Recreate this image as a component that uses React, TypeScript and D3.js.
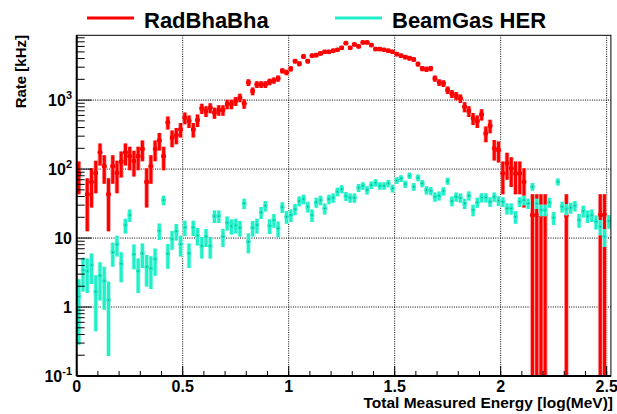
import React, { useRef, useEffect } from 'react';
import * as d3 from 'd3';

// histogram binning (126 bins of 0.02 in log(MeV))
const binLow = 0;
const binWidth = 0.02;

// RadBhaBha rate per bin [kHz], null = empty bin
const radBhaBha: (number | null)[] = [
  86, null, 43, 65, 88, 174, 110, 43, 110, 88,
  128, 174, 154, 131, 154, 195, 65, 110, 195, 260,
  154, 475, 285, 311, 376, 554, 497, 376, 513, 757,
  693, 774, 655, 716, 716, 875, 875, 968, 1082, 890,
  1803, 1350, 1687, 1687, 1687, 1845, 1928, 2061, 2661, 2518,
  2845, 3675, 3363, 4295, 3675, 4394, 4490, 4745, 5015, 5015,
  5190, 5360, 5730, 6695, 5730, 6410, 6000, 6850, 6850, 6270,
  5485, 5485, 5360, 5190, 5015, 4645, 4394, 4200, 4060, 3880,
  3325, 2877, 2810, 2877, 2061, 1803, 1746, 1396, 1236, 1156,
  1057, 800, 693, 542, 497, 620, 329, 425, 199, 188,
  86, 121, 102, 86, 86, 65, null, 21.5, 21.5, 21.5,
  21.5, null, null, null, null, 21.5, null, null, null, null,
  null, null, null, 21.5, 21.5, null,
];

// BeamGas HER rate per bin [kHz]
const beamGasHER: (number | null)[] = [
  1.41, 3.44, 3.32, 4.06, 1.67, 2.85, 2.38, 1.26, 6.2, 8.1,
  4.25, 15.4, 21.5, 5.8, 3.32, 6.0, 3.84, 3.63, 4.96, 12.8,
  35.5, 5.9, 9.7, 12.6, 8.1, 14.3, 6.0, 14.3, 10.9, 7.7,
  10.5, 7.7, 20.8, 20.8, 10.5, 16.7, 14.9, 15.4, 14.1, 31.8,
  8.85, 14.1, 15.4, 23.5, 29.4, 15.1, 18.2, 13.8, 28.1, 20.4,
  21.5, 26.3, 34.4, 36.7, 28.5, 21.5, 32.9, 35.5, 26.9, 36.7,
  38.4, 46.9, 51.3, 40.6, 38.4, 38.4, 53.6, 57.3, 49.6, 58.6,
  63.4, 57.3, 57.3, 62, 52.5, 68.5, 73.2, 60.6, 80, 55.5,
  74.9, 62, 49.6, 48.5, 39.7, 41.1, 48, 67, 34.4, 39.7,
  38.4, 31.8, 41.1, 25.5, 32.9, 38.8, 38.8, 33.6, 39.7, 34.8,
  33.6, 26.9, 26.9, 20.4, 33.6, 35.5, 31.8, 55.5, 31.8, 25.5,
  25.5, 32.9, 19.7, 65.5, 28.5, 26.3, 27.5, 29.4, 18.2, 24.6,
  20.8, 21.5, 17.3, 14.6, 10.5, 17.6,
];

// weight of one entry, for the Poisson error bars
const radWeight = 21.5;
const beamWeight = 0.9;

const xTicks = [0, 0.5, 1, 1.5, 2, 2.5];
const xTickLabels = ['0', '0.5', '1', '1.5', '2', '2.5'];
const yTicks = [0.1, 1, 10, 100, 1000];
const yTickBase = ['10', '1', '10', '10', '10'];
const yTickExp = ['-1', '', '', '2', '3'];

const seriesNames = ['RadBhaBha', 'BeamGas HER'];

const RED = '#ff0000';
const TEAL = '#1ff0c8';
const FONT = '"Liberation Sans", Arial, Helvetica, sans-serif';

const W = 617;
const H = 414;

const App = () => {
  const svgRef = useRef<SVGSVGElement>(null);

  useEffect(() => {
    const svg = d3.select(svgRef.current);
    svg.selectAll('*').remove();

    const left = 76.7, right = 610.9, top = 35.3, bottom = 376;

    const x = d3.scaleLinear().domain([0, 2.52]).range([left, right]);
    const y = d3.scaleLog().domain([0.1, 8700]).range([bottom, top]);

    svg.append('rect').attr('width', W).attr('height', H).attr('fill', '#fff');

    svg.append('defs').append('clipPath').attr('id', 'plot')
      .append('rect')
      .attr('x', left).attr('y', top)
      .attr('width', right - left).attr('height', bottom - top);

    // grid
    const grid = svg.append('g')
      .attr('stroke', '#000')
      .attr('stroke-width', 1)
      .attr('stroke-dasharray', '1 1.3');
    grid.selectAll('.gx').data(xTicks.filter(d => d > 0))
      .enter().append('line')
      .attr('x1', d => x(d)).attr('x2', d => x(d))
      .attr('y1', top).attr('y2', bottom);
    grid.selectAll('.gy').data(yTicks.filter(d => d > 0.1))
      .enter().append('line')
      .attr('x1', left).attr('x2', right)
      .attr('y1', d => y(d)).attr('y2', d => y(d));

    // histograms with error bars
    const plot = svg.append('g').attr('clip-path', 'url(#plot)');

    const drawSeries = (values: (number | null)[], weight: number, color: string, halo: string, dot: boolean) => {
      const pts = values
        .map((v, i) => ({ v, lo: binLow + i * binWidth, hi: binLow + (i + 1) * binWidth }))
        .filter(d => d.v !== null && (d.v as number) > 0)
        .map(d => {
          const v = d.v as number;
          const e = Math.sqrt(weight * v);
          return { ...d, v, up: v + e, down: v - e };
        });
      const yDown = (d: { down: number }) => (d.down > 0.1 ? y(d.down) : bottom + 5);

      const g = plot.append('g');
      [{ c: halo, w: 4.6 }, { c: color, w: 3 }].forEach(s => {
        g.selectAll(null).data(pts).enter().append('line')
          .attr('x1', d => x((d.lo + d.hi) / 2)).attr('x2', d => x((d.lo + d.hi) / 2))
          .attr('y1', d => y(d.up)).attr('y2', d => yDown(d))
          .attr('stroke', s.c).attr('stroke-width', s.w);
        g.selectAll(null).data(pts).enter().append('line')
          .attr('x1', d => x(d.lo)).attr('x2', d => x(d.hi))
          .attr('y1', d => y(d.v)).attr('y2', d => y(d.v))
          .attr('stroke', s.c).attr('stroke-width', s.w);
      });
      if (dot) {
        g.selectAll(null).data(pts).enter().append('circle')
          .attr('cx', d => x((d.lo + d.hi) / 2)).attr('cy', d => y(d.v))
          .attr('r', 2.4).attr('fill', color);
      } else {
        g.selectAll(null).data(pts).enter().append('rect')
          .attr('x', d => x((d.lo + d.hi) / 2) - 0.6).attr('y', d => y(d.v) - 0.6)
          .attr('width', 1.2).attr('height', 1.2).attr('fill', '#0c8f7a');
      }
    };

    drawSeries(radBhaBha, radWeight, RED, '#ff9a9a', true);
    drawSeries(beamGasHER, beamWeight, TEAL, '#a8f8e8', false);

    // frame
    svg.append('rect')
      .attr('x', left).attr('y', top)
      .attr('width', right - left).attr('height', bottom - top)
      .attr('fill', 'none').attr('stroke', '#000').attr('stroke-width', 1);
    svg.append('line').attr('x1', left).attr('x2', left).attr('y1', top).attr('y2', bottom)
      .attr('stroke', '#000').attr('stroke-width', 2);
    svg.append('line').attr('x1', left).attr('x2', right).attr('y1', bottom).attr('y2', bottom)
      .attr('stroke', '#000').attr('stroke-width', 2);

    // x ticks
    const axes = svg.append('g').attr('stroke', '#000').attr('stroke-width', 1);
    const xMinor = d3.range(0, 2.52, 0.1);
    axes.selectAll('.xm').data(xMinor).enter().append('line')
      .attr('x1', d => x(d)).attr('x2', d => x(d))
      .attr('y1', bottom).attr('y2', bottom - 5);
    axes.selectAll('.xM').data(xTicks).enter().append('line')
      .attr('x1', d => x(d)).attr('x2', d => x(d))
      .attr('y1', bottom).attr('y2', bottom - 10);

    // y ticks
    const yMinor: number[] = [];
    [0.1, 1, 10, 100, 1000].forEach(dec => {
      for (let m = 2; m <= 9; m++) if (dec * m < 8700) yMinor.push(dec * m);
    });
    axes.selectAll('.ym').data(yMinor).enter().append('line')
      .attr('x1', left).attr('x2', left + 8)
      .attr('y1', d => y(d)).attr('y2', d => y(d));
    axes.selectAll('.yM').data(yTicks).enter().append('line')
      .attr('x1', left).attr('x2', left + 15)
      .attr('y1', d => y(d)).attr('y2', d => y(d));

    // tick labels
    const labels = svg.append('g')
      .attr('font-family', FONT).attr('font-weight', 'bold').attr('fill', '#000');
    labels.selectAll('.xl').data(xTicks).enter().append('text')
      .attr('x', d => x(d)).attr('y', 391.5)
      .attr('text-anchor', 'middle').attr('font-size', 16)
      .text((d, i) => xTickLabels[i]);

    yTicks.forEach((v, i) => {
      const t = labels.append('text')
        .attr('x', 72).attr('y', y(v) + 6)
        .attr('text-anchor', 'end').attr('font-size', 16);
      t.append('tspan').text(yTickBase[i]);
      if (yTickExp[i]) {
        t.append('tspan').attr('font-size', 11).attr('dy', -7).text(yTickExp[i]);
      }
    });

    // axis titles
    labels.append('text')
      .attr('x', 613).attr('y', 408)
      .attr('text-anchor', 'end').attr('font-size', 15.5)
      .text('Total Measured Energy [log(MeV)]');
    labels.append('text')
      .attr('transform', 'translate(26,35) rotate(-90)')
      .attr('text-anchor', 'end').attr('font-size', 15)
      .text('Rate [kHz]');

    // legend
    const legend = svg.append('g').attr('font-family', FONT).attr('font-weight', 'bold');
    const legendX = [87, 335];
    const legendColors = [RED, TEAL];
    seriesNames.forEach((name, i) => {
      legend.append('line')
        .attr('x1', legendX[i]).attr('x2', legendX[i] + 47)
        .attr('y1', 18).attr('y2', 18)
        .attr('stroke', legendColors[i]).attr('stroke-width', 3);
      legend.append('text')
        .attr('x', legendX[i] + 57).attr('y', 28)
        .attr('font-size', 22).attr('fill', '#000')
        .text(name);
    });
  }, []);

  return (
    <svg
      ref={svgRef}
      width={W}
      height={H}
      style={{ position: 'absolute', left: 0, top: 0 }}
    />
  );
};

export default App;
